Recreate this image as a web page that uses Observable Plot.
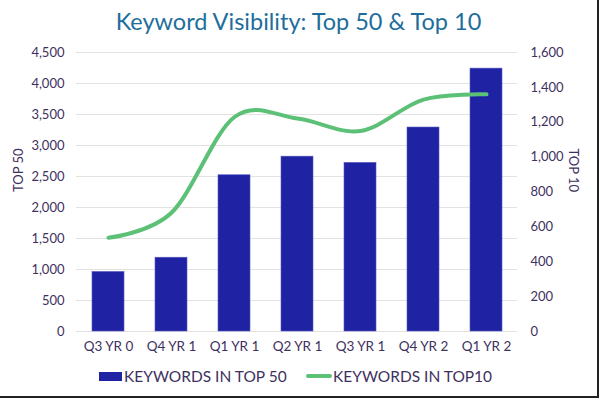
<!DOCTYPE html>
<html>
<head>
<meta charset="utf-8">
<script src="https://cdn.jsdelivr.net/npm/d3@7"></script>
<script src="https://cdn.jsdelivr.net/npm/@observablehq/plot@0.6"></script>
<style>
  html, body { margin: 0; padding: 0; background: #fff; }
  #wrap { width: 597px; height: 396px; border-right: 2px solid #222; border-bottom: 2px solid #222; position: relative; overflow: hidden; font-family: Lato, sans-serif; }
  #title { height: 40px; line-height: 40px; text-align: center; font-size: 23.5px; color: #1e6e9c; padding-top: 1px; box-sizing: border-box; }
  #legend { height: 34px; position: relative; font-size: 15.5px; color: #3e3160; }
  .lg { position: absolute; top: 5px; display: flex; align-items: center; }
  .sw-bar { width: 23px; height: 9px; background: #1f22a3; }
  .sw-line { width: 26px; height: 4px; background: #5cc076; border-radius: 2px; }
</style>
</head>
<body>
<div id="wrap">
  <div id="title">Keyword Visibility: Top 50 &amp; Top 10</div>
  <div id="chart"></div>
  <div id="legend">
    <div class="lg" style="left:99px"><div class="sw-bar"></div><span style="margin-left:2px">KEYWORDS IN TOP 50</span></div>
    <div class="lg" style="left:306px"><div class="sw-line"></div><span style="margin-left:1px">KEYWORDS IN TOP10</span></div>
  </div>
</div>
<script>
const quarters = ["Q3 YR 0", "Q4 YR 1", "Q1 YR 1", "Q2 YR 1", "Q3 YR 1", "Q4 YR 2", "Q1 YR 2"];
const top50 = [960, 1190, 2520, 2820, 2720, 3290, 4240];
const top10 = [538, 681, 1230, 1221, 1150, 1330, 1360];
const leftTicks = [0, 500, 1000, 1500, 2000, 2500, 3000, 3500, 4000, 4500];
const rightTicks = [0, 200, 400, 600, 800, 1000, 1200, 1400, 1600];
const leftMax = 4500, rightMax = 1600;
const k = leftMax / rightMax;

const data = quarters.map((q, i) => ({q, top50: top50[i], top10: top10[i]}));
const fmt = d3.format(",");
const textColor = "#3e3160";

const chart = Plot.plot({
  width: 597,
  height: 322,
  marginTop: 12,
  marginBottom: 31,
  marginLeft: 76,
  marginRight: 80,
  style: {fontFamily: "Lato, sans-serif", fontSize: "12.5px", color: textColor, background: "#fff"},
  x: {domain: quarters, paddingInner: 0.5, paddingOuter: 0.25, label: null},
  y: {domain: [0, leftMax], label: null},
  marks: [
    Plot.ruleY(leftTicks, {stroke: "#e2e2e2", strokeWidth: 1}),
    Plot.barY(data, {x: "q", y: "top50", fill: "#1f22a3", stroke: "#5a5cc0", strokeWidth: 0.6}),
    Plot.line(data, {x: "q", y: d => d.top10 * k, stroke: "#5cc076", strokeWidth: 4, curve: "cardinal", tension: 0, strokeLinecap: "round"}),
    Plot.axisX({tickSize: 0, tickPadding: 10, fill: textColor, label: null, fontSize: 13.5}),
    Plot.axisY({ticks: leftTicks, tickSize: 0, tickPadding: 12, tickFormat: fmt, fill: textColor, label: null, fontSize: 13}),
    Plot.text(rightTicks, {y: d => d * k, text: d => fmt(d), frameAnchor: "right", textAnchor: "start", dx: 13, fill: textColor, fontSize: 13}),
    Plot.text(["TOP 50"], {frameAnchor: "left", rotate: -90, dx: -58, fill: textColor, fontSize: 13}),
    Plot.text(["TOP 10"], {frameAnchor: "right", rotate: 90, dx: 56, fill: textColor, fontSize: 13})
  ]
});
document.getElementById("chart").appendChild(chart);
</script>
</body>
</html>
